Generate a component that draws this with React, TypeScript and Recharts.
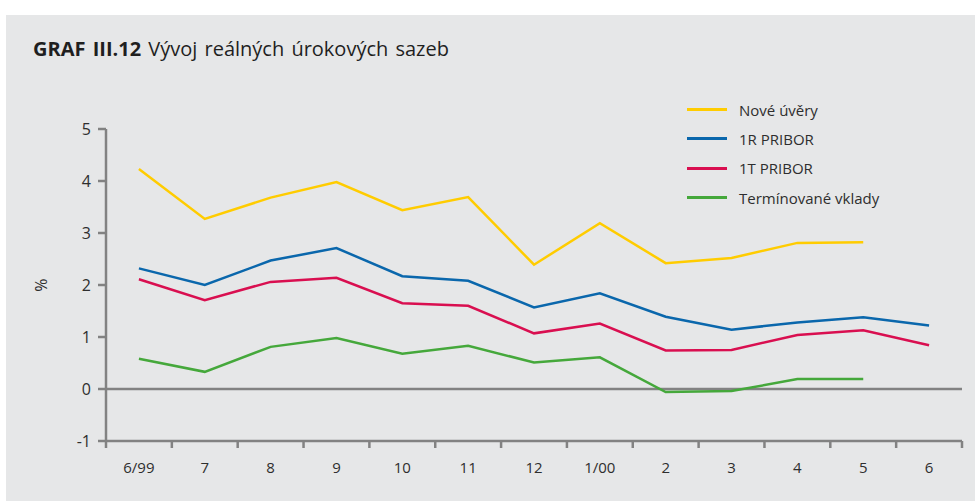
import { Legend, Line, LineChart, ReferenceLine, XAxis, YAxis } from 'recharts'

// Vývoj reálných úrokových sazeb, 6/1999 – 6/2000 (%)
const MONTHS = ['6/99', '7', '8', '9', '10', '11', '12', '1/00', '2', '3', '4', '5', '6']
const NOVE_UVERY = [4.23, 3.27, 3.68, 3.98, 3.44, 3.69, 2.39, 3.19, 2.42, 2.52, 2.81, 2.82, null]
const PRIBOR_1R = [2.32, 2.0, 2.47, 2.71, 2.17, 2.08, 1.57, 1.84, 1.39, 1.14, 1.28, 1.38, 1.22]
const PRIBOR_1T = [2.11, 1.71, 2.06, 2.14, 1.65, 1.6, 1.07, 1.26, 0.74, 0.75, 1.04, 1.13, 0.84]
const VKLADY = [0.58, 0.33, 0.81, 0.98, 0.68, 0.83, 0.51, 0.61, -0.06, -0.04, 0.19, 0.19, null]
const Y_TICKS = [-1, 0, 1, 2, 3, 4, 5]

const SERIES = [
  { key: 'nove', name: 'Nové úvěry', color: '#ffcc00' },
  { key: 'r1', name: '1R PRIBOR', color: '#0a67ac' },
  { key: 't1', name: '1T PRIBOR', color: '#d90f50' },
  { key: 'vklady', name: 'Termínované vklady', color: '#45a83b' },
]

const BG = '#e6e7e8'
const AXIS = '#828282'
const TEXT = '#2e2e2e'
const FONT = "'Open Sans', sans-serif"

const W = 975
const H = 501
const PLOT_LEFT = 106
const PLOT_RIGHT = 962
const BAND = (PLOT_RIGHT - PLOT_LEFT) / MONTHS.length

const data = MONTHS.map((m, i) => ({
  i,
  month: m,
  nove: NOVE_UVERY[i],
  r1: PRIBOR_1R[i],
  t1: PRIBOR_1T[i],
  vklady: VKLADY[i],
}))

// tick marks sit on band edges, labels in the band centres
const X_EDGES = Array.from({ length: MONTHS.length + 1 }, (_, k) => k - 0.5)

function XTick(props: any) {
  const { x, y, index } = props
  const label = MONTHS[index]
  if (!label) return null
  return (
    <text x={x + BAND / 2} y={y + 23} textAnchor="middle" fill={TEXT} fontSize={15} fontFamily={FONT}>
      {label}
    </text>
  )
}

function LegendBox() {
  return (
    <div style={{ fontFamily: FONT, fontSize: 15, color: TEXT }}>
      {SERIES.map((s) => (
        <div key={s.key} style={{ display: 'flex', alignItems: 'center', height: 29.3 }}>
          <span style={{ width: 40, height: 3, background: s.color, marginRight: 12, display: 'inline-block' }} />
          <span>{s.name}</span>
        </div>
      ))}
    </div>
  )
}

export default function App() {
  return (
    <div style={{ position: 'absolute', left: 0, top: 0, width: W, height: H, background: '#ffffff' }}>
      <div style={{ position: 'absolute', left: 6, top: 15, width: W - 6, height: H - 15, background: BG }} />
      <div
        style={{
          position: 'absolute',
          left: 33,
          top: 35,
          fontFamily: FONT,
          fontSize: 20,
          color: '#1f1f1f',
          whiteSpace: 'nowrap',
          wordSpacing: 2,
        }}
      >
        <b>GRAF III.12</b> Vývoj reálných úrokových sazeb
      </div>
      <div style={{ position: 'absolute', left: 0, top: 0 }}>
        <LineChart width={W} height={H} data={data} margin={{ top: 129, right: W - PLOT_RIGHT, bottom: 30, left: 0 }}>
          <XAxis
            dataKey="i"
            type="number"
            domain={[-0.5, MONTHS.length - 0.5]}
            ticks={X_EDGES}
            interval={0}
            height={30}
            stroke={AXIS}
            strokeWidth={2.5}
            tickSize={7}
            tick={<XTick />}
          />
          <YAxis
            domain={[-1, 5]}
            ticks={Y_TICKS}
            width={PLOT_LEFT}
            stroke={AXIS}
            strokeWidth={2.5}
            tickSize={8}
            tickMargin={7}
            tick={{ fill: TEXT, fontSize: 16, fontFamily: FONT }}
            label={(p: any) => (
              <text
                x={41}
                y={p.viewBox.y + p.viewBox.height / 2}
                transform={`rotate(-90 41 ${p.viewBox.y + p.viewBox.height / 2})`}
                textAnchor="middle"
                dominantBaseline="central"
                fill={TEXT}
                fontSize={16}
                fontFamily={FONT}
              >
                %
              </text>
            )}
          />
          <ReferenceLine y={0} stroke={AXIS} strokeWidth={2.5} />
          <Legend
            layout="horizontal"
            verticalAlign="middle"
            align="center"
            content={<LegendBox />}
            wrapperStyle={{ position: 'absolute', left: 687, top: 95, width: 260, height: 'auto' }}
          />
          {SERIES.map((s) => (
            <Line
              key={s.key}
              dataKey={s.key}
              name={s.name}
              type="linear"
              stroke={s.color}
              strokeWidth={2.5}
              dot={false}
              activeDot={false}
              connectNulls={false}
              isAnimationActive={false}
            />
          ))}
        </LineChart>
      </div>
    </div>
  )
}
